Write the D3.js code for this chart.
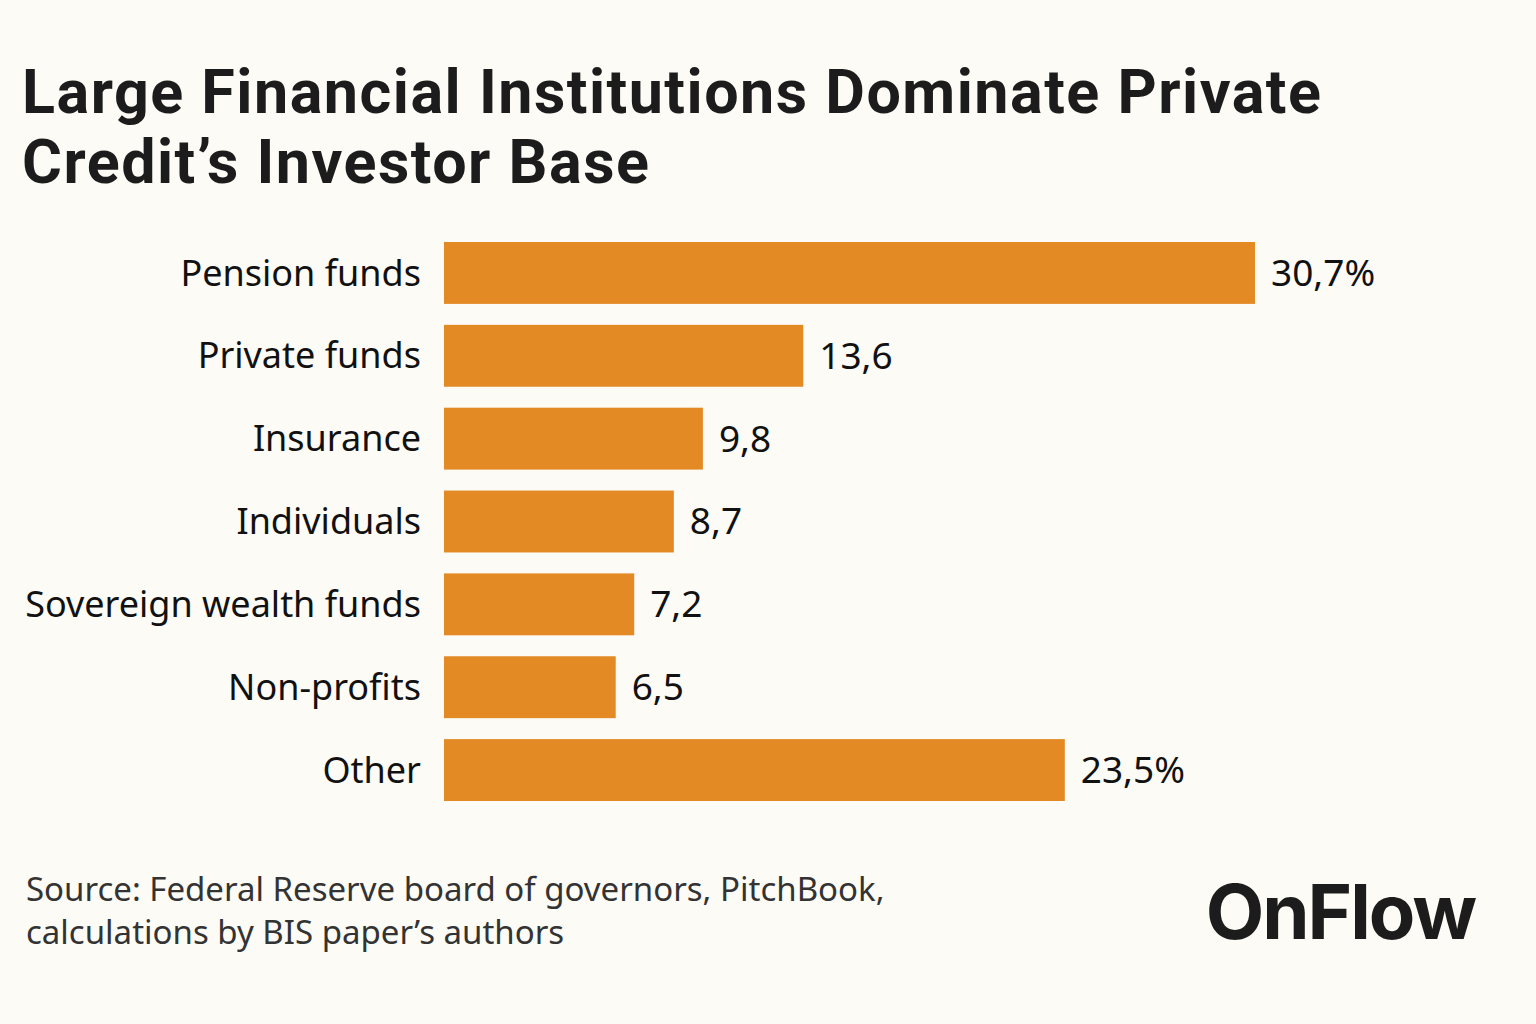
<!DOCTYPE html>
<html lang="en">
<head>
  <meta charset="UTF-8">
  <title>Private Credit Investor Base</title>
  <script src="https://d3js.org/d3.v7.min.js"></script>
  <style>
    html, body { margin: 0; padding: 0; background: #fcfbf6; }
    svg { display: block; }
  </style>
</head>
<body>
  <svg id="chart" width="1536" height="1024"></svg>
  <script>
    // data
    const categories = ['Pension funds', 'Private funds', 'Insurance', 'Individuals',
                        'Sovereign wealth funds', 'Non-profits', 'Other'];
    const shares = [30.7, 13.6, 9.8, 8.7, 7.2, 6.5, 23.5];
    const valueLabels = ['30,7%', '13,6', '9,8', '8,7', '7,2', '6,5', '23,5%'];
    const titleLines = ['Large Financial Institutions Dominate Private', 'Credit\u2019s Investor Base'];
    const sourceLines = ['Source: Federal Reserve board of governors, PitchBook,',
                         'calculations by BIS paper\u2019s authors'];

    const svg = d3.select('#chart');
    const barColor = '#e38a24';
    const bodyFont = '"Noto Sans", "Open Sans", sans-serif';

    svg.append('rect').attr('width', 1536).attr('height', 1024).attr('fill', '#fcfbf6');

    // title
    svg.append('g').selectAll('text')
      .data(titleLines)
      .join('text')
        .attr('x', 22)
        .attr('y', (d, i) => 113 + i * 70)
        .attr('font-family', 'Roboto, sans-serif')
        .attr('font-weight', 700)
        .attr('font-size', 61)
        .attr('letter-spacing', 1.5)
        .attr('fill', '#1c1c1c')
        .text(d => d);

    const x = d3.scaleLinear().domain([0, 30.7]).range([444, 1255]);
    const y = d3.scaleBand().domain(categories).range([242, 801]).paddingInner(0.253).paddingOuter(0);

    svg.append('g').selectAll('rect')
      .data(categories)
      .join('rect')
        .attr('x', x(0))
        .attr('y', d => y(d))
        .attr('width', (d, i) => x(shares[i]) - x(0))
        .attr('height', y.bandwidth())
        .attr('fill', barColor);

    // category labels
    svg.append('g').selectAll('text')
      .data(categories)
      .join('text')
        .attr('x', 421)
        .attr('y', d => y(d) + y.bandwidth() / 2)
        .attr('dy', '0.35em')
        .attr('text-anchor', 'end')
        .attr('font-family', bodyFont)
        .attr('font-size', 36)
        .attr('fill', '#111')
        .text(d => d);

    // value labels
    svg.append('g').selectAll('text')
      .data(categories)
      .join('text')
        .attr('x', (d, i) => x(shares[i]) + 16)
        .attr('y', d => y(d) + y.bandwidth() / 2)
        .attr('dy', '0.35em')
        .attr('font-family', bodyFont)
        .attr('font-size', 37)
        .attr('fill', '#111')
        .text((d, i) => valueLabels[i]);

    // source note
    svg.append('g').selectAll('text')
      .data(sourceLines)
      .join('text')
        .attr('x', 26)
        .attr('y', (d, i) => 901 + i * 43)
        .attr('font-family', bodyFont)
        .attr('font-size', 33)
        .attr('fill', '#333')
        .text(d => d);

    // brand
    svg.append('text')
      .attr('x', 1475)
      .attr('y', 939)
      .attr('text-anchor', 'end')
      .attr('font-family', 'Inter, "Liberation Sans", sans-serif')
      .attr('font-weight', 700)
      .attr('font-size', 76)
      .attr('letter-spacing', -2)
      .attr('fill', '#1c1c1c')
      .text('OnFlow');
  </script>
</body>
</html>
